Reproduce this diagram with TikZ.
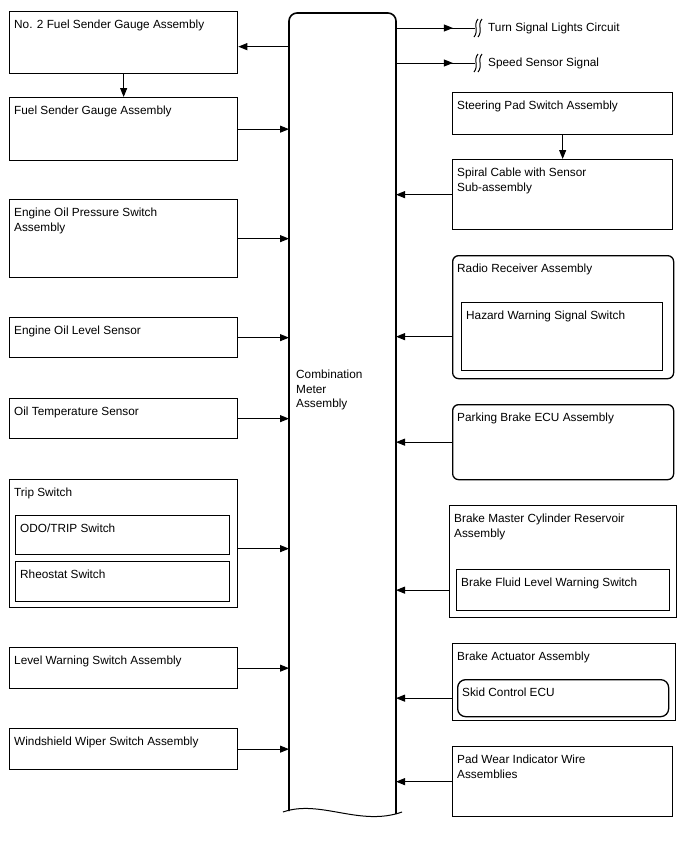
\documentclass[tikz,border=0pt]{standalone}
\usepackage{fontspec}
\setmainfont{Liberation Sans}
\usepackage{tikz}
\usetikzlibrary{arrows.meta,positioning,calc,decorations.markings}
\newcommand{\boxfont}{\fontsize{11.8}{14.5}\selectfont}
\tikzset{
  unit/.style={draw,line width=1.3pt,anchor=north west,inner sep=0pt},
  rnd/.style={unit,rounded corners=6pt},
  tag/.style={anchor=north west,inner sep=0pt,align=left,
              xshift=5pt,yshift=-9pt,font=\boxfont},
  sig/.style={-{Triangle[length=9pt,width=7pt]},line width=1pt},
  midsig/.style={line width=1pt,decoration={markings,
                 mark=at position #1 with {\arrow{Triangle[length=9pt,width=7pt]}}},
                 postaction=decorate},
  meterline/.style={line width=1.6pt},
  cutline/.style={line width=1pt},
}

\begin{document}
\begin{tikzpicture}[x=1pt,y=-1pt]
        \useasboundingbox (0,0) rectangle (688,852);
        % combination meter
        \node[anchor=north west,minimum width=107pt,minimum height=798pt,
              inner sep=0pt,outer sep=0pt] (meter) at (289,13) {};
        \draw[meterline,rounded corners=8pt] (meter.south west) -- (meter.north west)
          -- (meter.north east) -- ([yshift=-3pt]meter.south east);
        \draw[line width=1pt] ($(meter.south west)+(-6,1)$)
          .. controls ($(meter.south west)+(31,-12)$) and ($(meter.south west)+(71,16)$)
          .. ($(meter.south east)+(6,1)$);
        \node[anchor=north west,inner sep=0pt,align=left,font=\boxfont]
          (metertext) at (296,370) {Combination\\Meter\\Assembly};
        % left column
        \node[unit,minimum width=228pt,minimum height=62pt,
              label={[tag]north west:No. 2 Fuel Sender Gauge Assembly}] (gauge2) at (9,11) {};
        \node[unit,minimum width=228pt,minimum height=63pt,
              label={[tag]north west:Fuel Sender Gauge Assembly}] (gauge) at (9,97) {};
        \node[unit,minimum width=228pt,minimum height=78pt,
              label={[tag]north west:Engine Oil Pressure Switch\\Assembly}] (oilpress) at (9,199) {};
        \node[unit,minimum width=228pt,minimum height=40pt,
              label={[tag]north west:Engine Oil Level Sensor}] (oillevel) at (9,317) {};
        \node[unit,minimum width=228pt,minimum height=40pt,
              label={[tag]north west:Oil Temperature Sensor}] (oiltemp) at (9,398) {};
        \node[unit,minimum width=228pt,minimum height=128pt,
              label={[tag]north west:Trip Switch}] (trip) at (9,479) {};
        \node[unit,minimum width=214pt,minimum height=39pt,
              label={[tag]north west:ODO/TRIP Switch}] (odo) at (15,515) {};
        \node[unit,minimum width=214pt,minimum height=40pt,
              label={[tag]north west:Rheostat Switch}] (rheo) at (15,561) {};
        \node[unit,minimum width=228pt,minimum height=41pt,
              label={[tag]north west:Level Warning Switch Assembly}] (levelwarn) at (9,647) {};
        \node[unit,minimum width=228pt,minimum height=41pt,
              label={[tag]north west:Windshield Wiper Switch Assembly}] (wiper) at (9,728) {};
        % right column
        \node[unit,minimum width=220pt,minimum height=42pt,
              label={[tag]north west:Steering Pad Switch Assembly}] (steer) at (452,92) {};
        \node[unit,minimum width=220pt,minimum height=70pt,
              label={[tag]north west:Spiral Cable with Sensor\\Sub-assembly}] (spiral) at (452,159) {};
        \node[rnd,minimum width=221pt,minimum height=123pt,
              label={[tag]north west:Radio Receiver Assembly}] (radio) at (452,255) {};
        \node[unit,minimum width=201pt,minimum height=68pt,
              label={[tag]north west:Hazard Warning Signal Switch}] (hazard) at (461,302) {};
        \node[rnd,minimum width=221pt,minimum height=75pt,
              label={[tag]north west:Parking Brake ECU Assembly}] (parking) at (452,404) {};
        \node[unit,minimum width=227pt,minimum height=112pt,
              label={[tag]north west:Brake Master Cylinder Reservoir\\Assembly}] (master) at (449,505) {};
        \node[unit,minimum width=213pt,minimum height=41pt,
              label={[tag]north west:Brake Fluid Level Warning Switch}] (fluid) at (456,569) {};
        \node[unit,line width=1.4pt,minimum width=223pt,minimum height=77pt,
              label={[tag]north west:Brake Actuator Assembly}] (actuator) at (452,643) {};
        \node[rnd,rounded corners=8pt,minimum width=211pt,minimum height=37pt,
              label={[tag]north west:Skid Control ECU}] (skid) at (457,679) {};
        \node[unit,minimum width=220pt,minimum height=70pt,
              label={[tag]north west:Pad Wear Indicator Wire\\Assemblies}] (padwear) at (452,746) {};
        % outputs of the meter
        \node[anchor=west,inner sep=0pt,font=\boxfont] (turn) at (488,28) {Turn Signal Lights Circuit};
        \node[anchor=west,inner sep=0pt,font=\boxfont] (speed) at (488,63) {Speed Sensor Signal};
        \coordinate (turncut) at (475,28);
        \coordinate (speedcut) at (475,63);
        \draw[midsig=0.72] (meter.east |- turncut) -- (turncut);
        \draw[midsig=0.72] (meter.east |- speedcut) -- (speedcut);
        \foreach \c in {turncut,speedcut}
          \foreach \dx in {1,5}
            \draw[cutline] ($(\c)+(\dx+2,-9)$) .. controls ($(\c)+(\dx-3,-3)$)
              and ($(\c)+(\dx+3,3)$) .. ($(\c)+(\dx-2,9)$);
        \coordinate (g2in) at ($(gauge2.east)+(0,4)$);
        \draw[sig] (meter.west |- g2in) -- (g2in);
        \draw[sig] (gauge2.south) -- (gauge2.south |- gauge.north);
        \draw[sig] (steer.south) -- (steer.south |- spiral.north);
        % inputs of the meter
        \coordinate (tripout) at ($(trip.east)+(0,5)$);
        \draw[sig] (tripout) -- (tripout -| meter.west);
        \foreach \src in {gauge,oilpress,oillevel,oiltemp,levelwarn,wiper}
          \draw[sig] (\src.east) -- (\src.east -| meter.west);
        \foreach \src in {spiral,parking,padwear}
          \draw[sig] (\src.west) -- (\src.west -| meter.east);
        \draw[sig] (radio.west |- hazard.west) -- (meter.east |- hazard.west);
        \draw[sig] (master.west |- fluid.west) -- (meter.east |- fluid.west);
        \draw[sig] (actuator.west |- skid.west) -- (meter.east |- skid.west);
      \end{tikzpicture}
\end{document}
